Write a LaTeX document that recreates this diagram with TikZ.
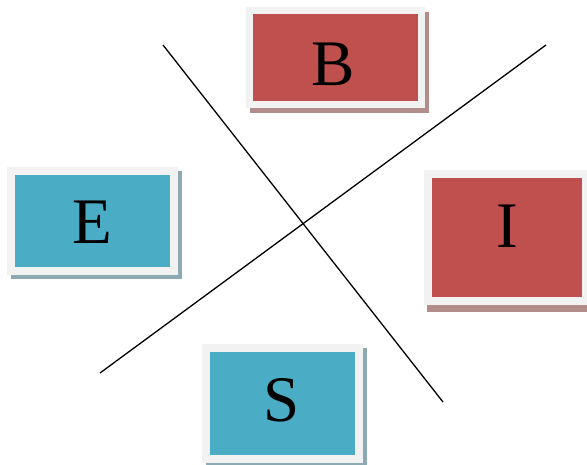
\documentclass[tikz,border=0pt]{standalone}
\usepackage{fontspec}
\setmainfont{Liberation Serif}
\definecolor{cred}{HTML}{C0504D}
\definecolor{cblue}{HTML}{4BACC6}
\definecolor{cframe}{HTML}{F2F2F2}
\definecolor{sred}{HTML}{B38C8C}
\definecolor{sblue}{HTML}{8DA9B1}
\begin{document}
\begin{tikzpicture}[x=1pt,y=-1pt,
  box/.style={draw=cframe, line width=7.5pt, inner sep=0pt, rectangle},
  lbl/.style={inner sep=0pt, font=\fontsize{65}{65}\selectfont},
  sep/.style={line width=1.3pt, black}]
\useasboundingbox (0,0) rectangle (587,464);
% shadows
\fill[sred] (250,12) rectangle (429,113);
\fill[sblue] (11,171) rectangle (182,279);
\fill[sred] (427,176) rectangle (591,312);
\fill[sblue] (206,348) rectangle (367,467);
% boxes
\node[box, fill=cred, minimum width=172pt, minimum height=94pt] (B) at (335.5,57.5) {};
\node[box, fill=cblue, minimum width=163pt, minimum height=100pt] (E) at (92.5,221) {};
\node[box, fill=cred, minimum width=158pt, minimum height=127pt] (I) at (507,237.5) {};
\node[box, fill=cblue, minimum width=153pt, minimum height=111pt] (S) at (282.5,403.5) {};
% letters
\node[lbl] (tB) at (333,64.5) {B};
\node[lbl] (tE) at (92.5,222.5) {E};
\node[lbl] (tI) at (507,226.5) {I};
\node[lbl] (tS) at (282,400.5) {S};
% crossing lines
\coordinate (l1a) at (163,45);
\coordinate (l1b) at (443,402);
\coordinate (l2a) at (546,45);
\coordinate (l2b) at (100,373);
\draw[sep] (l1a) -- (l1b);
\draw[sep] (l2a) -- (l2b);
\end{tikzpicture}
\end{document}
